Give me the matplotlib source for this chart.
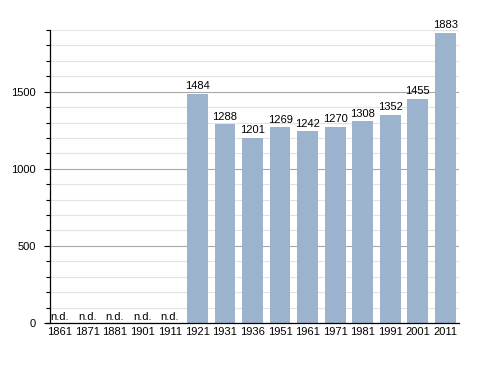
import matplotlib
matplotlib.use("Agg")
import matplotlib.pyplot as plt
from matplotlib.ticker import MultipleLocator

years = ["1861", "1871", "1881", "1901", "1911", "1921", "1931", "1936",
         "1951", "1961", "1971", "1981", "1991", "2001", "2011"]
population = [None, None, None, None, None, 1484, 1288, 1201,
              1269, 1242, 1270, 1308, 1352, 1455, 1883]
missing_label = "n.d."

plt.rcParams['font.family'] = ['Liberation Sans', 'DejaVu Sans']
fs = 8

fig = plt.figure(figsize=(4.88, 3.73), dpi=100)
ax = fig.add_axes([46 / 488, 50 / 373, 413 / 488, 293 / 373])

bar_color = "#9bb3cc"
xs = list(range(len(years)))
for x, v in zip(xs, population):
    if v is None:
        ax.text(x, 8, missing_label, ha="center", va="bottom", fontsize=fs, color="black")
    else:
        ax.bar(x, v, width=0.76, color=bar_color, zorder=3)
        ax.text(x, v + 18, str(v), ha="center", va="bottom", fontsize=fs, color="black", zorder=4)

ax.set_xlim(-0.5, len(years) - 0.5)
ax.set_ylim(0, 1900)
ax.set_xticks(xs)
ax.set_xticklabels(years, fontsize=fs)
ax.tick_params(axis="x", length=0, pad=3)

ax.yaxis.set_major_locator(MultipleLocator(500))
ax.yaxis.set_minor_locator(MultipleLocator(100))
ax.tick_params(axis="y", which="major", length=4, width=0.8, labelsize=fs, pad=6, direction="out")
ax.tick_params(axis="y", which="minor", length=3, width=0.8, direction="out")

ax.grid(axis="y", which="minor", color="#e3e3e3", linewidth=0.8, zorder=0)
ax.grid(axis="y", which="major", color="#a8a8a8", linewidth=0.8, zorder=1)

for s in ["top", "right"]:
    ax.spines[s].set_visible(False)
ax.spines["left"].set_position(("data", -0.5 + 4 / 27.5))
ax.spines["left"].set_linewidth(0.9)
ax.spines["bottom"].set_linewidth(0.9)
ax.spines["bottom"].set_zorder(5)

fig.savefig("out.png", dpi=100)
